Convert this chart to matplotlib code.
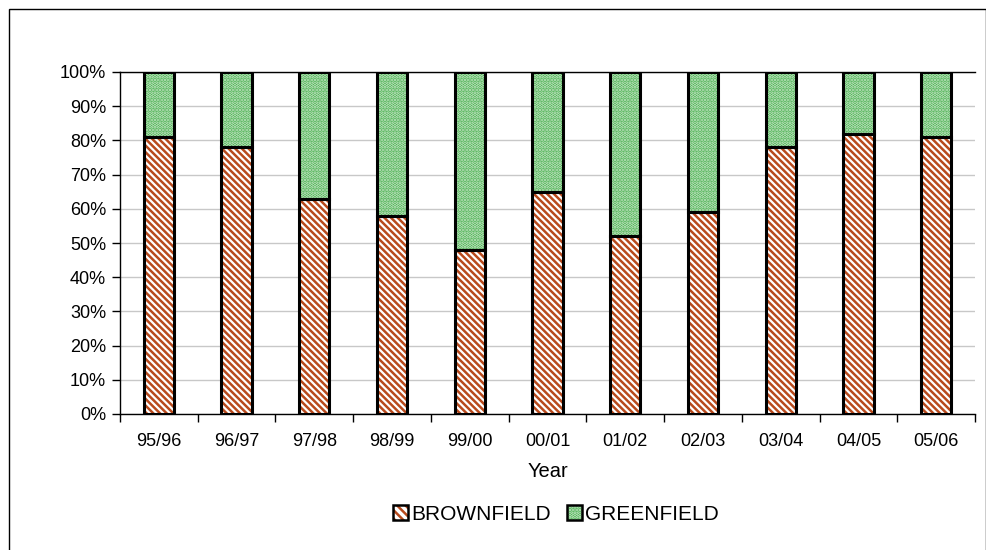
import numpy as np
import matplotlib
matplotlib.use('Agg')
import matplotlib.pyplot as plt
from matplotlib.patches import Rectangle, Patch

plt.rcParams['font.family'] = ['Liberation Sans', 'DejaVu Sans']
plt.rcParams['hatch.linewidth'] = 1.8

years = ['95/96', '96/97', '97/98', '98/99', '99/00', '00/01',
         '01/02', '02/03', '03/04', '04/05', '05/06']
brownfield = [81, 78, 63, 58, 48, 65, 52, 59, 78, 82, 81]
greenfield = [100 - b for b in brownfield]

BROWN = '#B84A1C'
GREEN = '#3FAA46'
GREEN_DOT = '#CDEBCD'


def main():
    fig = plt.figure(figsize=(9.87, 5.5), dpi=100)
    # outer chart border
    fig.patches.append(Rectangle((9 / 987, -0.01), 977 / 987, 1 - 9 / 550 + 0.01,
                                 transform=fig.transFigure, fill=False,
                                 edgecolor='black', linewidth=1.0))

    ax = fig.add_axes([120 / 987, 1 - 414 / 550, 855 / 987, 342 / 550])
    x = np.arange(len(years))
    w = 0.39

    # hatched fill first, then black outlines on top
    ax.bar(x, brownfield, w, color='white', edgecolor=BROWN, hatch='\\\\\\\\\\',
           linewidth=0, zorder=2)
    ax.bar(x, greenfield, w, bottom=brownfield, color=GREEN, edgecolor=GREEN_DOT,
           hatch='.....', linewidth=0, zorder=2)
    ax.bar(x, brownfield, w, fill=False, edgecolor='black', linewidth=2.2, zorder=3)
    ax.bar(x, greenfield, w, bottom=brownfield, fill=False, edgecolor='black',
           linewidth=2.2, zorder=3)

    ax.set_xlim(-0.5, len(years) - 0.5)
    ax.set_ylim(0, 100)
    ax.set_yticks(np.arange(0, 101, 10))
    ax.set_yticklabels(['{}%'.format(v) for v in range(0, 101, 10)])
    ax.set_xticks(x)
    ax.set_xticklabels(years)
    ax.set_xticks(np.arange(-0.5, len(years), 1), minor=True)
    ax.tick_params(axis='x', which='major', length=0, pad=14, labelsize=13)
    ax.tick_params(axis='x', which='minor', length=6, direction='out', width=1)
    ax.tick_params(axis='y', length=6, direction='out', width=1, labelsize=13, pad=4)

    ax.grid(axis='y', color='#C8C8C8', linewidth=1, zorder=0)
    ax.set_axisbelow(True)
    ax.spines['right'].set_visible(False)
    ax.spines['top'].set_color('black')
    ax.spines['top'].set_linewidth(1)
    ax.spines['left'].set_linewidth(1)
    ax.spines['bottom'].set_linewidth(1)

    ax.set_xlabel('Year', fontsize=14.5, labelpad=8)

    handles = [Patch(facecolor='white', edgecolor=BROWN, hatch='\\\\\\\\'),
               Patch(facecolor=GREEN, edgecolor=GREEN_DOT, hatch='.....')]
    leg = fig.legend(handles, ['BROWNFIELD', 'GREENFIELD'], loc='center',
                     bbox_to_anchor=(556 / 987, 1 - 514 / 550), ncol=2, frameon=False,
                     fontsize=15, handlelength=0.7, handleheight=0.7,
                     handletextpad=0.15, columnspacing=0.8)
    for p in leg.get_patches():
        p.set_linewidth(0)
    # black outlines around the legend keys
    fig.canvas.draw()
    for p in leg.get_patches():
        bb = p.get_window_extent().transformed(fig.transFigure.inverted())
        fig.patches.append(Rectangle((bb.x0, bb.y0), bb.width, bb.height,
                                     transform=fig.transFigure, fill=False,
                                     edgecolor='black', linewidth=1.8, zorder=10))

    plt.savefig('out.png', dpi=100)


if __name__ == '__main__':
    main()
